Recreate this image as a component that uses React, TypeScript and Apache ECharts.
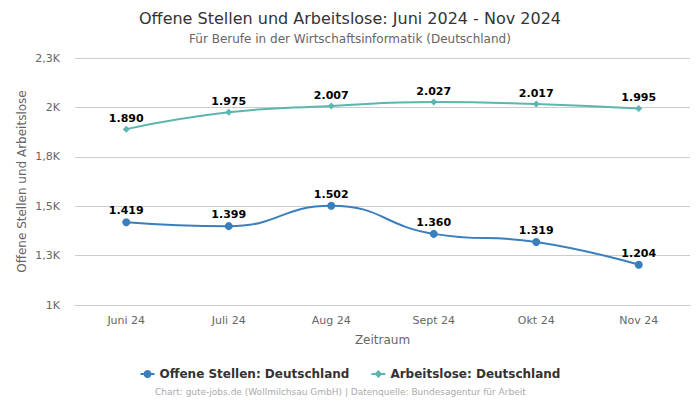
import React, { useEffect, useRef } from "react";
import * as echarts from "echarts";

const categories = ["Juni 24", "Juli 24", "Aug 24", "Sept 24", "Okt 24", "Nov 24"];
const offeneStellen = [1419, 1399, 1502, 1360, 1319, 1204];
const arbeitslose = [1890, 1975, 2007, 2027, 2017, 1995];

const FONT = "DejaVu Sans, sans-serif";

function fmtThousands(v: number): string {
  return String(v).replace(/\B(?=(\d{3})+(?!\d))/g, ".");
}

function fmtAxis(v: number): string {
  let s = (v / 1000).toFixed(1);
  if (s.endsWith(".0")) s = s.slice(0, -2);
  return s.replace(".", ",") + "K";
}

export default function App() {
  const ref = useRef<HTMLDivElement>(null);
  useEffect(() => {
    document.body.style.margin = "0";
    if (!ref.current) return;
    const chart = echarts.init(ref.current, undefined, { renderer: "svg" });
    chart.setOption({
      animation: false,
      textStyle: { fontFamily: FONT },
      title: {
        text: "Offene Stellen und Arbeitslose: Juni 2024 - Nov 2024",
        subtext: "Für Berufe in der Wirtschaftsinformatik (Deutschland)",
        left: "center",
        top: 5,
        itemGap: 7,
        textStyle: { fontFamily: FONT, fontSize: 16, fontWeight: "normal", color: "#333" },
        subtextStyle: { fontFamily: FONT, fontSize: 12, color: "#666" },
      },
      grid: { left: 75, right: 10, top: 58, bottom: 95 },
      legend: {
        bottom: 15,
        left: "center",
        itemGap: 21,
        itemWidth: 14,
        itemHeight: 10,
        textStyle: { fontFamily: FONT, fontSize: 12, fontWeight: "bold", color: "#333" },
        data: ["Offene Stellen: Deutschland", "Arbeitslose: Deutschland"],
      },
      graphic: [
        {
          type: "text",
          left: 155,
          top: 387,
          style: {
            text: "Chart: gute-jobs.de (Wollmilchsau GmbH) | Datenquelle: Bundesagentur für Arbeit",
            fontFamily: FONT,
            fontSize: 9,
            fill: "#aaa",
          },
        },
      ],
      xAxis: {
        type: "category",
        data: categories,
        boundaryGap: true,
        name: "Zeitraum",
        nameLocation: "middle",
        nameGap: 29,
        nameMoveOverlap: false,
        nameTextStyle: { fontFamily: FONT, fontSize: 12, color: "#666" },
        axisLine: { show: true, lineStyle: { color: "#ccc" } },
        axisTick: { show: false },
        axisLabel: { fontFamily: FONT, fontSize: 11, color: "#666", margin: 10 },
      },
      yAxis: {
        type: "value",
        min: 1000,
        max: 2250,
        interval: 250,
        name: "Offene Stellen und Arbeitslose",
        nameLocation: "middle",
        nameGap: 47,
        nameMoveOverlap: false,
        nameTextStyle: { fontFamily: FONT, fontSize: 12, color: "#666" },
        axisLine: { show: false },
        axisTick: { show: false },
        splitLine: { lineStyle: { color: "#ccc" } },
        axisLabel: { fontFamily: FONT, fontSize: 11, color: "#666", margin: 15, formatter: fmtAxis },
      },
      series: [
        {
          name: "Offene Stellen: Deutschland",
          type: "line",
          smooth: true,
          data: offeneStellen,
          symbol: "circle",
          symbolSize: 8,
          itemStyle: { color: "#3a7fbd" },
          lineStyle: { width: 2, color: "#3a7fbd" },
          label: {
            show: true,
            position: "top",
            distance: 2,
            formatter: (p: any) => fmtThousands(p.value),
            fontFamily: FONT,
            fontSize: 11,
            fontWeight: "bold",
            color: "#000",
          },
        },
        {
          name: "Arbeitslose: Deutschland",
          type: "line",
          smooth: true,
          data: arbeitslose,
          symbol: "diamond",
          symbolSize: 7,
          itemStyle: { color: "#5bb6af" },
          lineStyle: { width: 2, color: "#5bb6af" },
          label: {
            show: true,
            position: "top",
            distance: 2,
            formatter: (p: any) => fmtThousands(p.value),
            fontFamily: FONT,
            fontSize: 11,
            fontWeight: "bold",
            color: "#000",
          },
        },
      ],
    });
    return () => chart.dispose();
  }, []);
  return <div ref={ref} style={{ width: 700, height: 400 }} />;
}
